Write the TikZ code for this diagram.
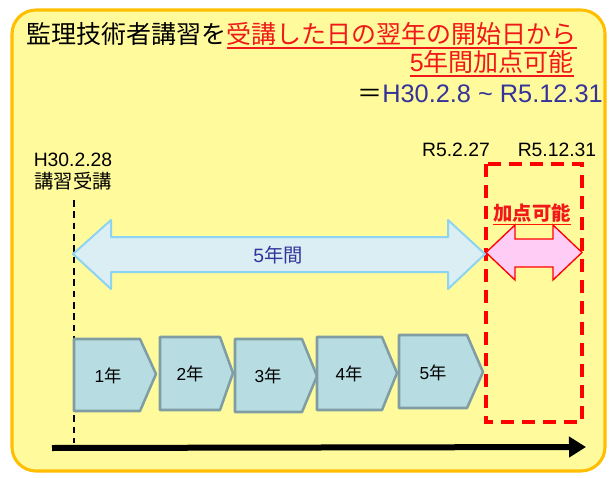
\documentclass[tikz,border=0pt]{standalone}
\usepackage{fontspec}
\setmainfont{Liberation Sans}
\newfontfamily\jp{Noto Sans CJK JP}
\usepackage{xcolor}
\usetikzlibrary{arrows.meta,calc}
\definecolor{boxfill}{HTML}{FFFB9C}
\definecolor{boxline}{HTML}{FFBF00}
\definecolor{redtxt}{HTML}{F01818}
\definecolor{bluetxt}{HTML}{333399}
\definecolor{spanfill}{HTML}{DAEEF3}
\definecolor{spanline}{HTML}{8DD3F2}
\definecolor{pinkfill}{HTML}{FFCCF5}
\definecolor{yearfill}{HTML}{B7DDE2}
\definecolor{yearline}{HTML}{7F9DA2}
\tikzset{
  ttl/.style={inner sep=0pt,font=\fontsize{18.75}{22}\selectfont},
  lbl/.style={inner sep=0pt,font=\fontsize{14.5}{17}\selectfont},
  yeartxt/.style={inner sep=0pt,font=\fontsize{13}{15}\selectfont},
  yearbox/.style={draw=yearline,fill=yearfill,line width=1.9pt,line join=round},
  ul/.style={line width=1.3pt}
}

\begin{document}
\begin{tikzpicture}[line cap=butt,line join=miter,x=0.75pt,y=-0.75pt]
                \useasboundingbox (0,0) rectangle (614,478);
                % background panel
                \draw [line width=2.3pt,draw=boxline,fill=boxfill,rounded corners=18pt] (12,10) rectangle (605,471);
                % heading
                \node [ttl,anchor=base west] (ttlA) at (26,44) {\jp 監理技術者講習を};
                \node [ttl,anchor=base west,text=redtxt] (ttlB) at (ttlA.base east) {\jp 受講した日の翌年の開始日から};
                \draw [ul,redtxt] ([yshift=-2.8pt]ttlB.base west) -- ([yshift=-2.8pt]ttlB.base east);
                \node [ttl,anchor=base east,text=redtxt] (ttlC) at (574,72) {5\jp 年間加点可能};
                \draw [ul,redtxt] ([yshift=-2.8pt]ttlC.base west) -- ([yshift=-2.8pt]ttlC.base east);
                \node [ttl,anchor=base east] (ttlD) at (603,102.5) {{\jp ＝}\fontsize{19}{22}\selectfont\textcolor{bluetxt}{H30.2.8 \textasciitilde{} R5.12.31}};
                % dates
                \node [lbl] (start) at (73,160) {H30.2.28};
                \node [lbl] (startjp) at (73,181) {\jp 講習受講};
                \node [lbl] (endA) at (456,150) {R5.2.27};
                \node [lbl] (endB) at (557,150) {R5.12.31};
                % dashed marks
                \coordinate (markT) at (74,200);
                \coordinate (markB) at (74,443);
                \draw [line width=1.1pt,dash pattern=on 5pt off 3.5pt] (markT) -- (markB);
                \draw [line width=2.6pt,draw=red,dash pattern=on 9.75pt off 6pt] (486,164) rectangle (582,422);
                % five year span
                \draw [line width=1.5pt,draw=spanline,fill=spanfill,line join=round] (73,254) -- (111,220) -- (111,237) -- (448,237) -- (448,220) -- (485,254) -- (448,289) -- (448,272) -- (111,272) -- (111,289) -- cycle;
                \node [lbl,text=bluetxt] (span) at (278,255) {5\jp 年間};
                % bonus span
                \draw [line width=1pt,draw=red,fill=pinkfill] (486,252.5) -- (515,225) -- (515,239) -- (553,239) -- (553,225) -- (582,252.5) -- (553,280) -- (553,267) -- (515,267) -- (515,280) -- cycle;
                \node [lbl,text=redtxt,font=\fontsize{14.5}{17}\jp\bfseries] (bonus) at (532,213.5) {加点可能};
                \draw [line width=1pt,draw=red!80!orange] ([yshift=-1.2pt]bonus.south west) -- ([yshift=-1.2pt]bonus.south east);
                % years
                \foreach \n/\xa/\xb/\xc/\ya/\ym/\yb/\lx/\ly in {1/74/140/156/339/374/411/108/376,2/160/220/233/337/373/410/190/374,3/235/302/317/339/376/412/268/376,4/317/382/397/337/373/410/349/374,5/399/467/483/335/372/408/433/373}
                {
                    \draw [yearbox] (\xa,\ya) -- (\xb,\ya) -- (\xc,\ym) -- (\xb,\yb) -- (\xa,\yb) -- cycle;
                    \node [yeartxt] (yr\n) at (\lx,\ly) {\n\jp 年};
                }
                % time axis
                \coordinate (axisL) at (52,448);
                \coordinate (axisR) at (586,447);
                \draw [line width=4.5pt,-{Triangle[length=12.75pt,width=15pt]}] (axisL) -- (axisR);
            \end{tikzpicture}
\end{document}
